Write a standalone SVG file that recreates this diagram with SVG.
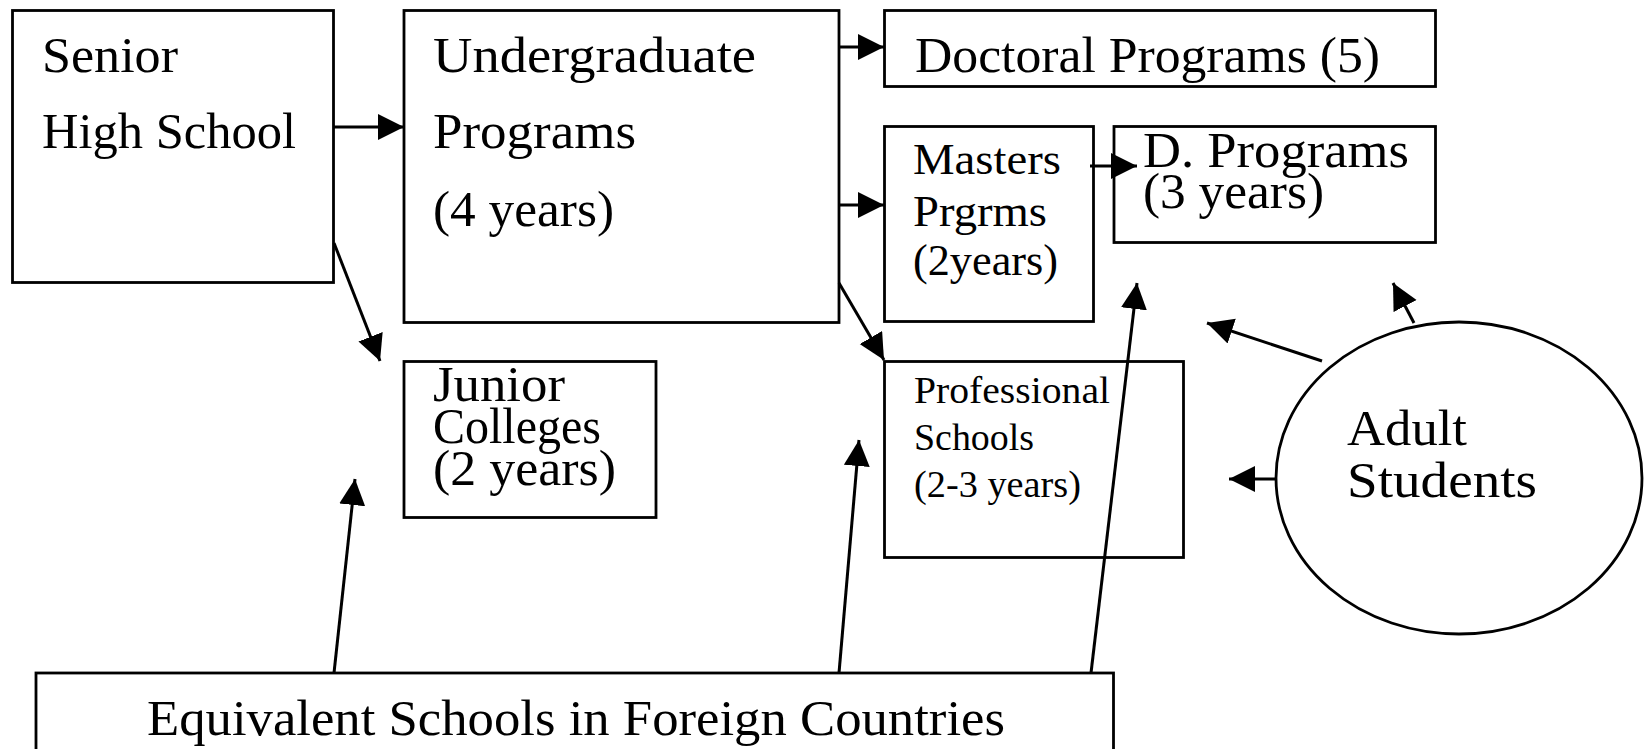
<svg xmlns="http://www.w3.org/2000/svg" width="1645" height="749" viewBox="0 0 1645 749">
<style>
.box{fill:none;stroke:#000;stroke-width:2.8}
.t{font-family:"Liberation Serif","Times New Roman",serif;font-size:51px;fill:#000}
.m{font-size:45px}
.p{font-size:38px}
.c{fill:none;stroke:#000;stroke-width:3}
</style>
<defs>
<marker id="ah" markerUnits="userSpaceOnUse" markerWidth="27" markerHeight="27" refX="26" refY="13" orient="auto">
<path d="M0,0 L26,13 L0,26 Z" fill="#000"/>
</marker>
</defs>
<rect width="1645" height="749" fill="#fff"/>
<g id="senior">
<rect class="box" x="12.5" y="10.5" width="321" height="272"/>
<text class="t" x="42" y="72" textLength="136" lengthAdjust="spacingAndGlyphs">Senior</text>
<text class="t" x="42" y="148" textLength="254" lengthAdjust="spacingAndGlyphs">High School</text>
</g>
<g id="undergrad">
<rect class="box" x="404" y="10.5" width="435" height="312"/>
<text class="t" x="433" y="72" textLength="323" lengthAdjust="spacingAndGlyphs">Undergraduate</text>
<text class="t" x="433" y="148" textLength="203" lengthAdjust="spacingAndGlyphs">Programs</text>
<text class="t" x="433" y="226" textLength="181" lengthAdjust="spacingAndGlyphs">(4 years)</text>
</g>
<g id="doctoral">
<rect class="box" x="884.5" y="10.5" width="551" height="76"/>
<text class="t" x="915" y="72" textLength="465" lengthAdjust="spacingAndGlyphs">Doctoral Programs (5)</text>
</g>
<g id="masters">
<rect class="box" x="884.5" y="126.5" width="209" height="195"/>
<text class="t m" x="913" y="174" textLength="148" lengthAdjust="spacingAndGlyphs">Masters</text>
<text class="t m" x="913" y="226" textLength="134" lengthAdjust="spacingAndGlyphs">Prgrms</text>
<text class="t m" x="913" y="275" textLength="145" lengthAdjust="spacingAndGlyphs">(2years)</text>
</g>
<g id="dprograms">
<rect class="box" x="1114" y="126.5" width="321.5" height="116"/>
<text class="t" x="1143" y="167" textLength="266" lengthAdjust="spacingAndGlyphs">D. Programs</text>
<text class="t" x="1143" y="208" textLength="181" lengthAdjust="spacingAndGlyphs">(3 years)</text>
</g>
<g id="junior">
<rect class="box" x="404" y="361.5" width="252" height="156"/>
<text class="t" x="433" y="401" textLength="132" lengthAdjust="spacingAndGlyphs">Junior</text>
<text class="t" x="433" y="443" textLength="168" lengthAdjust="spacingAndGlyphs">Colleges</text>
<text class="t" x="433" y="485" textLength="183" lengthAdjust="spacingAndGlyphs">(2 years)</text>
</g>
<g id="professional">
<rect class="box" x="884.5" y="361.5" width="299" height="196"/>
<text class="t p" x="914" y="403" textLength="196" lengthAdjust="spacingAndGlyphs">Professional</text>
<text class="t p" x="914" y="450" textLength="120" lengthAdjust="spacingAndGlyphs">Schools</text>
<text class="t p" x="914" y="497" textLength="167" lengthAdjust="spacingAndGlyphs">(2-3 years)</text>
</g>
<g id="adult">
<ellipse class="box" cx="1459" cy="478" rx="183" ry="156"/>
<text class="t" x="1347" y="445" textLength="120" lengthAdjust="spacingAndGlyphs">Adult</text>
<text class="t" x="1347" y="497" textLength="190" lengthAdjust="spacingAndGlyphs">Students</text>
</g>
<g id="foreign">
<rect class="box" x="36" y="673" width="1077.5" height="100"/>
<text class="t" x="147" y="735" textLength="858" lengthAdjust="spacingAndGlyphs">Equivalent Schools in Foreign Countries</text>
</g>
<g id="connectors">
<line class="c" x1="333" y1="127" x2="404" y2="127" marker-end="url(#ah)"/>
<line class="c" x1="838" y1="47" x2="884" y2="47" marker-end="url(#ah)"/>
<line class="c" x1="838" y1="205" x2="884" y2="205" marker-end="url(#ah)"/>
<line class="c" x1="1090" y1="166" x2="1137" y2="166" marker-end="url(#ah)"/>
<line class="c" x1="334" y1="243" x2="380" y2="361" marker-end="url(#ah)"/>
<line class="c" x1="839" y1="283" x2="884" y2="360" marker-end="url(#ah)"/>
<line class="c" x1="334" y1="673" x2="355" y2="479" marker-end="url(#ah)"/>
<line class="c" x1="839" y1="673" x2="859" y2="440" marker-end="url(#ah)"/>
<line class="c" x1="1091" y1="673" x2="1137" y2="283" marker-end="url(#ah)"/>
<line class="c" x1="1322" y1="361" x2="1207" y2="323" marker-end="url(#ah)"/>
<line class="c" x1="1414" y1="323" x2="1393" y2="283" marker-end="url(#ah)"/>
<line class="c" x1="1276" y1="479" x2="1229" y2="479" marker-end="url(#ah)"/>
</g>
</svg>
